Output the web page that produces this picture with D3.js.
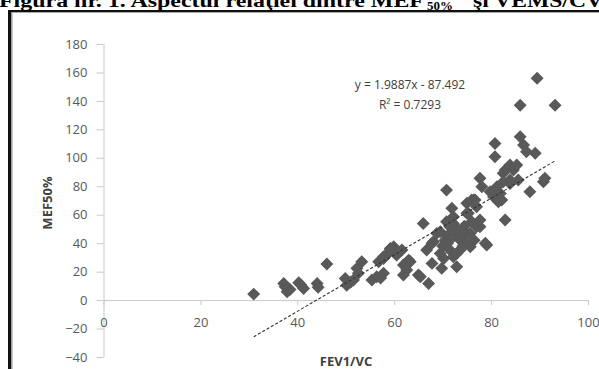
<!DOCTYPE html>
<html>
<head>
<meta charset="utf-8">
<script src="https://cdn.jsdelivr.net/npm/d3@7"></script>
<style>
  body { margin: 0; background: #fff; }
  svg { display: block; }
</style>
</head>
<body>
<div id="container"></div>
<script>
// values (FEV1/VC, MEF50%)
const fevVc = [31.0, 37.2, 37.9, 37.5, 38.5, 40.3, 41.3, 40.8, 44.1, 44.3, 46.1,
  49.9, 50.2, 51.0, 51.6, 52.6, 52.3, 53.3, 55.4, 56.4, 56.8, 57.8, 57.2,
  59.2, 59.9, 57.8, 58.5, 60.5, 59.2, 57.8, 61.6, 61.9, 63.3, 63.0, 62.6, 61.9, 65.0, 65.4, 67.1,
  66.0, 66.7, 67.8, 67.8, 68.1, 68.8, 69.5, 69.5, 69.8, 70.2, 70.8, 70.8, 71.5, 71.5, 71.9,
  72.2, 72.2, 72.2, 72.2, 72.9, 72.9, 73.6, 73.6, 74.2, 74.5, 75.0, 75.0, 75.0, 75.3, 75.7, 75.7,
  76.0, 76.4, 76.7, 77.0, 77.0, 77.7, 77.7, 77.7, 78.1, 78.8, 79.1, 79.8, 80.5, 80.8, 80.8, 81.2,
  81.5, 81.9, 82.2, 82.5, 82.5, 82.9, 82.9, 83.9, 83.9, 83.9, 84.6, 85.3, 85.6, 86.0, 86.0, 86.7,
  87.3, 88.0, 89.1, 89.5, 90.8, 91.1, 93.2, 73.0, 74.0, 70.5, 71.0,
  73.0, 74.5, 76.0, 75.0, 72.0, 76.5, 70.0, 71.0];
const mef50 = [4.2, 11.7, 5.9, 9.4, 7.5, 12.2, 8.2, 10.5, 11.7, 9.0, 25.3,
  15.2, 10.5, 12.5, 14.1, 18.8, 22.3, 26.9, 14.1, 16.4, 26.9, 18.8, 15.5,
  36.3, 37.5, 29.3, 32.0, 31.6, 35.2, 30.5, 35.2, 17.6, 26.9, 28.1, 21.1, 24.6, 17.6, 16.4, 11.7,
  53.9, 35.2, 39.9, 25.8, 41.0, 46.9, 48.0, 32.8, 22.3, 29.3, 77.3, 55.0, 51.5, 35.2, 64.5,
  53.9, 52.7, 30.5, 58.6, 32.8, 23.4, 35.2, 42.2, 38.0, 45.0, 61.0, 46.9, 68.0, 61.0, 37.5, 46.9,
  70.3, 70.3, 70.3, 65.6, 51.5, 51.5, 56.3, 85.6, 79.7, 39.9, 38.7, 76.2, 72.6, 110.0, 100.8, 79.7,
  69.1, 75.0, 70.3, 83.2, 89.1, 56.3, 91.4, 82.0, 84.4, 95.0, 91.4, 95.0, 84.4, 137.0, 114.8, 109.0,
  104.3, 76.2, 103.2, 156.0, 83.2, 85.6, 137.0, 48.0, 50.0, 42.0, 45.0,
  45.0, 52.0, 55.0, 40.0, 44.0, 42.0, 38.0, 40.0];

const xTicks = [0, 20, 40, 60, 80, 100];
const yTicks = [-40, -20, 0, 20, 40, 60, 80, 100, 120, 140, 160, 180];
const slope = 1.9887, intercept = -87.492;
const eqText = "y = 1.9887x - 87.492";
const r2Text = "R² = 0.7293";

const width = 599, height = 369;
const svg = d3.select("#container").append("svg")
  .attr("width", width).attr("height", height);

// frame of the figure
svg.append("rect").attr("x", 8).attr("y", 10).attr("width", 600).attr("height", 2).attr("fill", "#111");
svg.append("rect").attr("x", 8).attr("y", 12).attr("width", 600).attr("height", 1).attr("fill", "#aaa");
svg.append("rect").attr("x", 8).attr("y", 10).attr("width", 3).attr("height", 370).attr("fill", "#111");
svg.append("rect").attr("x", 11).attr("y", 12).attr("width", 1.5).attr("height", 370).attr("fill", "#999");

// title (cut at top, as in the scan)
const title = svg.append("g").attr("font-family", "Liberation Serif, serif").attr("font-weight", "bold").attr("fill", "#000");
title.append("text").attr("x", -1).attr("y", 7).attr("font-size", 19)
  .attr("textLength", 425).attr("lengthAdjust", "spacingAndGlyphs")
  .text("Figura nr. 1. Aspectul relaţiei dintre MEF");
title.append("text").attr("x", 427).attr("y", 10).attr("font-size", 13).text("50%");
title.append("text").attr("x", 473).attr("y", 7).attr("font-size", 19)
  .attr("textLength", 130).attr("lengthAdjust", "spacingAndGlyphs")
  .text("şi VEMS/CV");

const x = d3.scaleLinear().domain([0, 100]).range([103.5, 588]);
const y = d3.scaleLinear().domain([-40, 180]).range([357, 44]);

const axisColor = "#c9c9c9", labelColor = "#595959";
const font = "Open Sans, Liberation Sans, sans-serif";

const yAxis = svg.append("g").attr("transform", `translate(${x(0)},0)`)
  .call(d3.axisLeft(y).tickValues(yTicks).tickSize(7).tickSizeOuter(0).tickPadding(9));
const xAxis = svg.append("g").attr("transform", `translate(0,${y(0)})`)
  .call(d3.axisBottom(x).tickValues(xTicks).tickSize(5).tickSizeOuter(0).tickPadding(13));

[xAxis, yAxis].forEach(g => {
  g.select(".domain").attr("stroke", axisColor);
  g.selectAll(".tick line").attr("stroke", axisColor);
  g.selectAll(".tick text").attr("fill", labelColor).attr("font-family", font).attr("font-size", 13);
});

// points
const pts = fevVc.map((v, i) => ({ x: v, y: mef50[i] }));
const diamond = d3.symbol().type(d3.symbolSquare).size(84);
svg.append("g").selectAll("path").data(pts).enter().append("path")
  .attr("d", diamond)
  .attr("transform", d => `translate(${x(d.x)},${y(d.y)}) rotate(45)`)
  .attr("fill", "#595959");

// linear trend line
const xMin = d3.min(fevVc), xMax = d3.max(fevVc);
svg.append("line")
  .attr("x1", x(xMin)).attr("y1", y(slope * xMin + intercept))
  .attr("x2", x(xMax)).attr("y2", y(slope * xMax + intercept))
  .attr("stroke", "#333").attr("stroke-width", 1.1).attr("stroke-dasharray", "3,2");

// equation
svg.append("text").attr("x", 410).attr("y", 89).attr("text-anchor", "middle")
  .attr("font-family", font).attr("font-size", 12).attr("fill", "#404040").text(eqText);
svg.append("text").attr("x", 410).attr("y", 109).attr("text-anchor", "middle")
  .attr("font-family", font).attr("font-size", 12).attr("fill", "#404040").text(r2Text);

// axis titles
svg.append("text").attr("x", 346).attr("y", 366).attr("text-anchor", "middle")
  .attr("font-family", font).attr("font-weight", "bold").attr("font-size", 13).attr("fill", "#404040")
  .text("FEV1/VC");
svg.append("text").attr("transform", "translate(52,203) rotate(-90)").attr("text-anchor", "middle")
  .attr("font-family", font).attr("font-weight", "bold").attr("font-size", 13).attr("fill", "#404040")
  .text("MEF50%");
</script>
</body>
</html>
